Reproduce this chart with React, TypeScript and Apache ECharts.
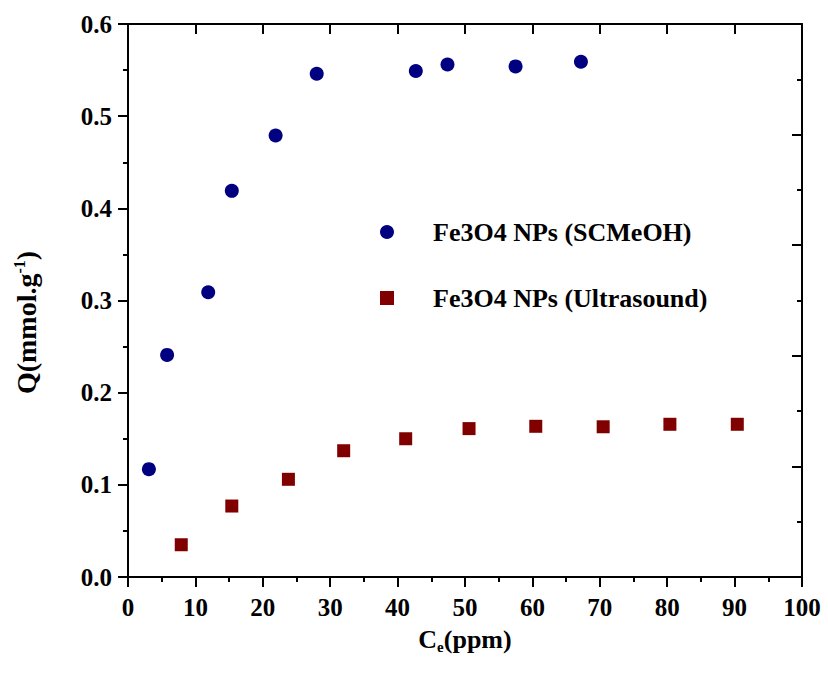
import React, { useEffect, useRef } from "react";
import * as echarts from "echarts";

const scmeohX = [3.1, 5.8, 11.9, 15.4, 21.9, 28.0, 42.7, 47.4, 57.5, 67.2];
const scmeohY = [0.117, 0.241, 0.309, 0.419, 0.479, 0.546, 0.549, 0.556, 0.554, 0.559];
const ultraX = [7.9, 15.4, 23.8, 32.0, 41.2, 50.6, 60.5, 70.5, 80.4, 90.4];
const ultraY = [0.035, 0.077, 0.106, 0.137, 0.150, 0.161, 0.1635, 0.163, 0.1657, 0.1657];
const seriesNames = ["Fe3O4 NPs (SCMeOH)", "Fe3O4 NPs (Ultrasound)"];

const FONT = "'Liberation Serif', 'Times New Roman', serif";

const line = () => ({ show: true, onZero: false, lineStyle: { color: "#000000", width: 2, type: "solid" } });
const tick = (inside: boolean) => ({
  show: true,
  inside,
  length: 10,
  lineStyle: { color: "#000000", width: 2, type: "solid" },
});
const minor = () => ({ show: true, splitNumber: 2, length: 5, lineStyle: { color: "#000000", width: 2, type: "solid" } });

export default function App() {
  const ref = useRef<HTMLDivElement>(null);
  useEffect(() => {
    document.body.style.margin = "0";
    const chart = echarts.init(ref.current!, null, { renderer: "svg" });
    chart.setOption({
      animation: false,
      backgroundColor: "#fff",
      grid: { left: 128, right: 26, top: 24, bottom: 99 },
      legend: {
        orient: "vertical",
        left: 375,
        top: 214,
        itemWidth: 82,
        itemHeight: 14,
        itemGap: 40,
        data: [
          { name: seriesNames[0], icon: "circle" },
          { name: seriesNames[1], icon: "path://M0,0h10v10h-10z" },
        ],
        textStyle: { fontFamily: FONT, fontWeight: "bold", fontSize: 26, color: "#000", lineHeight: 24 },
      },
      xAxis: [
        {
          type: "value",
          min: 0,
          max: 100,
          interval: 10,
          position: "bottom",
          name: "{a|C}{sub|e}{a|(ppm)}",
          nameLocation: "middle",
          nameGap: 48,
          nameTextStyle: {
            rich: {
              a: { fontFamily: FONT, fontWeight: "bold", fontSize: 26, color: "#000" },
              sub: { fontFamily: FONT, fontWeight: "bold", fontSize: 15, color: "#000", padding: [14, 0, 0, 0] },
            },
          },
          axisLine: line(),
          axisTick: tick(false),
          minorTick: minor(),
          axisLabel: { fontFamily: FONT, fontWeight: "bold", fontSize: 25, color: "#000", margin: 18 },
          splitLine: { show: false },
        },
        {
          type: "value",
          min: 0,
          max: 100,
          interval: 10,
          position: "top",
          axisLine: line(),
          axisTick: tick(true),
          axisLabel: { show: false },
          splitLine: { show: false },
        },
      ],
      yAxis: [
        {
          type: "value",
          min: 0,
          max: 0.6,
          interval: 0.1,
          position: "left",
          name: "{a|Q(mmol.g}{sup|-1}{a|)}",
          nameLocation: "middle",
          nameRotate: 90,
          nameGap: 86,
          nameTextStyle: {
            padding: [0, 44, 0, 0],
            rich: {
              a: { fontFamily: FONT, fontWeight: "bold", fontSize: 28, color: "#000" },
              sup: { fontFamily: FONT, fontWeight: "bold", fontSize: 16, color: "#000", padding: [0, 0, 15, 0] },
            },
          },
          axisLine: line(),
          axisTick: tick(false),
          minorTick: minor(),
          axisLabel: {
            fontFamily: FONT,
            fontWeight: "bold",
            fontSize: 25,
            color: "#000",
            margin: 16,
            formatter: (v: number) => v.toFixed(1),
          },
          splitLine: { show: false },
        },
        {
          type: "value",
          min: 0,
          max: 0.6,
          interval: 0.12,
          position: "right",
          axisLine: line(),
          axisTick: tick(true),
          minorTick: minor(),
          axisLabel: { show: false },
          splitLine: { show: false },
        },
      ],
      series: [
        {
          name: seriesNames[0],
          type: "scatter",
          symbol: "circle",
          symbolSize: 14,
          itemStyle: { color: "#000080", opacity: 1 },
          data: scmeohX.map((x, i) => [x, scmeohY[i]]),
        },
        {
          name: seriesNames[1],
          type: "scatter",
          symbol: "rect",
          symbolSize: 13,
          itemStyle: { color: "#800000", opacity: 1 },
          data: ultraX.map((x, i) => [x, ultraY[i]]),
        },
      ],
    });
    return () => chart.dispose();
  }, []);
  return <div ref={ref} style={{ width: 828, height: 676 }} />;
}
